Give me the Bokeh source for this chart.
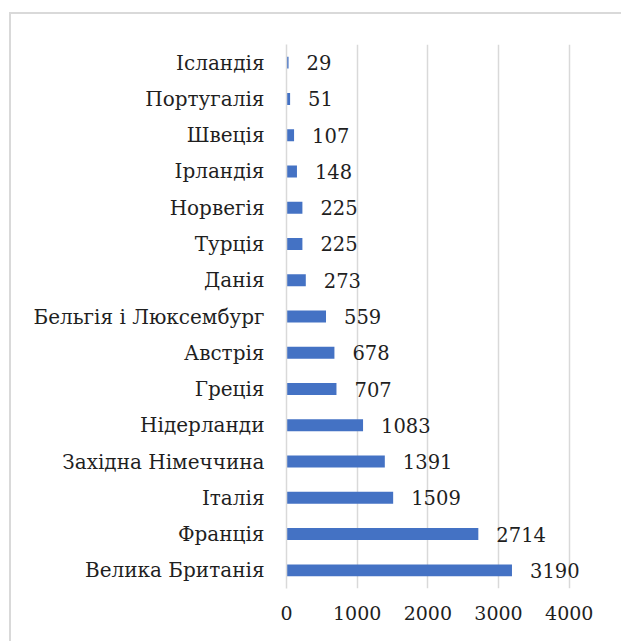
from bokeh.plotting import figure
from bokeh.models import FactorRange, Range1d, FixedTicker, ColumnDataSource
from bokeh.layouts import column
from bokeh.core.properties import value
from bokeh.embed import file_html
from bokeh.resources import INLINE

countries = ["Ісландія", "Португалія", "Швеція", "Ірландія", "Норвегія", "Турція", "Данія",
             "Бельгія і Люксембург", "Австрія", "Греція", "Нідерланди", "Західна Німеччина",
             "Італія", "Франція", "Велика Британія"]
values = [29, 51, 107, 148, 225, 225, 273, 559, 678, 707, 1083, 1391, 1509, 2714, 3190]
x_ticks = [0, 1000, 2000, 3000, 4000]

FONT = "DejaVu Serif"
GRID = "#d9d9d9"
BAR = "#4472C4"
TXT = "#1f1f1f"

src = ColumnDataSource(dict(country=countries, val=values, lab=[str(v) for v in values]))

p = figure(width=610, height=627, output_backend="svg", toolbar_location=None,
           y_range=FactorRange(factors=countries[::-1]), x_range=Range1d(0, 4400),
           min_border_left=275, min_border_right=24, min_border_top=30, min_border_bottom=53)
p.outline_line_color = None
p.background_fill_color = "white"
p.border_fill_color = "white"

p.hbar(y="country", right="val", left=0, height=0.33, source=src, color=BAR, line_color=None)
p.text(x="val", y="country", text="lab", source=src, x_offset=18, text_align="left",
       text_baseline="middle", text_font=value(FONT), text_font_size="19.5px", text_color=TXT)

p.xaxis.ticker = FixedTicker(ticks=x_ticks)
p.xgrid.ticker = FixedTicker(ticks=x_ticks)
p.xgrid.grid_line_color = GRID
p.xgrid.grid_line_width = 1.5
p.ygrid.grid_line_color = None

for ax in (p.xaxis, p.yaxis):
    ax.major_tick_line_color = None
    ax.minor_tick_line_color = None
    ax.major_label_text_color = TXT
    ax.major_label_text_font = FONT
p.xaxis.major_label_text_font_size = "19px"
p.yaxis.major_label_text_font_size = "20px"
p.xaxis.axis_line_color = None
p.yaxis.axis_line_color = GRID
p.yaxis.axis_line_width = 1.5
p.xaxis.major_label_standoff = 11
p.yaxis.major_label_standoff = 16

layout = column(p, styles={"border-top": "2px solid #d9d9d9", "border-left": "2px solid #d9d9d9",
                           "margin-left": "9px", "margin-top": "12px"})

open("out.html", "w").write(file_html(layout, INLINE))
